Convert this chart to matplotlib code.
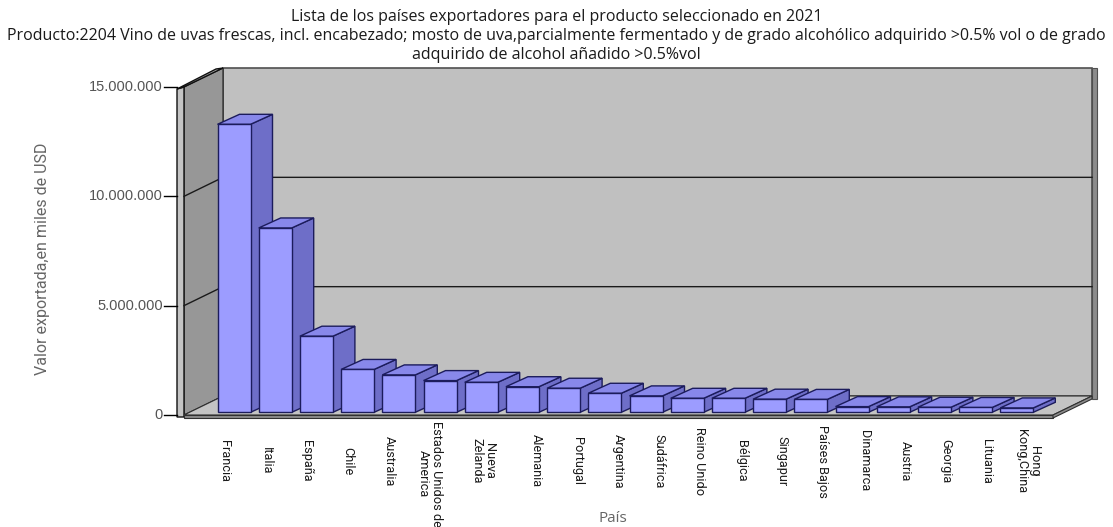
import matplotlib
matplotlib.use('Agg')
import matplotlib.pyplot as plt
from matplotlib.patches import Polygon

paises = ['Francia', 'Italia', 'España', 'Chile', 'Australia',
          'Estados Unidos de\nAmerica', 'Nueva\nZelanda', 'Alemania', 'Portugal',
          'Argentina', 'Sudáfrica', 'Reino Unido', 'Bélgica', 'Singapur',
          'Países Bajos', 'Dinamarca', 'Austria', 'Georgia', 'Lituania',
          'Hong\nKong,China']
valores = [13170000, 8430000, 3480000, 1960000, 1710000, 1450000, 1370000,
           1170000, 1100000, 870000, 750000, 640000, 640000, 600000, 590000,
           260000, 250000, 230000, 220000, 200000]
yticks = [0, 5000000, 10000000, 15000000]
ytick_labels = ['0', '5.000.000', '10.000.000', '15.000.000']

titulo = ['Lista de los países exportadores para el producto seleccionado en 2021',
          'Producto:2204 Vino de uvas frescas, incl. encabezado; mosto de uva,parcialmente fermentado y de grado alcohólico adquirido >0.5% vol o de grado',
          'adquirido de alcohol añadido >0.5%vol']

W, H = 1113, 527
fig = plt.figure(figsize=(W / 100, H / 100), dpi=100)
ax = fig.add_axes([184 / W, (H - 415) / H, (1053 - 184) / W, (415 - 87) / H])
ax.set_xlim((184 - 234) / 41.2, (1053 - 234) / 41.2)
ax.set_ylim(0, yticks[-1])
ax.axis('off')

# pixel -> data helpers (for the fake 3d geometry)
sx = 41.2
sy = 328 / yticks[-1]
def px_x(p):
    return p / sx
def px_y(p):
    return p / sy

XL, XR = ax.get_xlim()
TOP = yticks[-1]
DX, DY = px_x(39), px_y(19)
T = px_x(7)

def poly(pts, fc, ec='#303030', lw=0.8, z=1):
    ax.add_patch(Polygon(pts, closed=True, fc=fc, ec=ec, lw=lw, zorder=z, clip_on=False))

# walls and floor
poly([(XL + DX, DY), (XR + DX, DY), (XR + DX, TOP + DY), (XL + DX, TOP + DY)], '#c0c0c0', ec='#505050', lw=1.2)
poly([(XR + DX, DY - px_y(3)), (XR + DX + px_x(5), DY - px_y(3)),
      (XR + DX + px_x(5), TOP + DY), (XR + DX, TOP + DY)], '#8c8c8c', ec='#505050')
poly([(XL, 0), (XL + DX, DY), (XL + DX, TOP + DY), (XL, TOP)], '#979797', ec='#202020')
poly([(XL - T, -px_y(2)), (XL, -px_y(2)), (XL, TOP), (XL - T, TOP - px_y(2))], '#c4c4c4', ec='#101010', lw=1)
poly([(XL - T, TOP - px_y(2)), (XL, TOP), (XL + DX, TOP + DY), (XL + DX - T, TOP + DY - px_y(1))], '#b0b0b0', ec='#101010', lw=1)
poly([(XL, 0), (XR, 0), (XR + DX, DY), (XL + DX, DY)], '#c4c4c4', ec='#303030')
poly([(XL, 0), (XR, 0), (XR, -px_y(3)), (XL, -px_y(3))], '#8c8c8c', ec='#303030')
poly([(XR, 0), (XR + DX, DY), (XR + DX, DY - px_y(3)), (XR, -px_y(3))], '#8c8c8c', ec='#303030')

for v in yticks[1:-1]:
    ax.plot([XL, XL + DX, XR + DX], [v, v + DY, v + DY], color='#1a1a1a', lw=1, zorder=2, clip_on=False)

# y ticks
for v, lab in zip(yticks, ytick_labels):
    ax.plot([XL - T - px_x(13), XL - T], [v, v], color='black', lw=1, clip_on=False, zorder=3)
    ax.text(XL - T - px_x(14), v, lab, ha='right', va='center', fontsize=10.5,
            color='#555555', family=['Liberation Sans', 'DejaVu Sans'])

# bars
BW = px_x(33)
BDX, BDY = px_x(22), px_y(10)
base = px_y(2.7)
for i, v in enumerate(valores):
    x0 = i - BW / 2
    z = 10 + i
    poly([(x0 + BW, base), (x0 + BW + BDX, base + BDY), (x0 + BW + BDX, base + v + BDY), (x0 + BW, base + v)],
         '#6e6ec8', ec='#1c1c5c', lw=1, z=z)
    poly([(x0, base + v), (x0 + BW, base + v), (x0 + BW + BDX, base + v + BDY), (x0 + BDX, base + v + BDY)],
         '#8888ea', ec='#1c1c5c', lw=1, z=z)
    poly([(x0, base), (x0 + BW, base), (x0 + BW, base + v), (x0, base + v)],
         '#9c9cff', ec='#1c1c5c', lw=1, z=z)

# category labels
etiquetas = []
n_multi = 0
for i, p in enumerate(paises):
    xp = 225 + 41 * i + 12 * n_multi
    if '\n' in p:
        n_multi += 1
    t = ax.text((xp - 234) / sx, -px_y(461 - 415), p, rotation=-90, ha='center', va='center',
                multialignment='center', fontsize=9.2, color='#1a1a1a', linespacing=1.0,
                family=['Roboto', 'DejaVu Sans'], clip_on=False)
    etiquetas.append(t)

fig.canvas.draw()
r = fig.canvas.get_renderer()
for t in etiquetas:
    bb = t.get_window_extent(r)
    lim = H - 421
    if bb.y1 > lim:
        x, y = t.get_position()
        t.set_position((x, y - px_y(bb.y1 - lim)))

for k, line in enumerate(titulo):
    fig.text(0.5, 1 - (17 + 19 * k) / H, line, ha='center', va='center', fontsize=11.5,
             family=['Open Sans', 'DejaVu Sans'], color='#1a1a1a')

fig.text(43 / W, 1 - 259 / H, 'Valor exportada,en miles de USD', rotation=90, ha='center', va='center',
         fontsize=11.5, color='#666666', family=['Roboto', 'DejaVu Sans'])
fig.text(613 / W, 1 - 519 / H, 'País', ha='center', va='center', fontsize=11, color='#666666',
         family=['Open Sans', 'DejaVu Sans'])

fig.savefig('out.png', dpi=100, facecolor='white')
